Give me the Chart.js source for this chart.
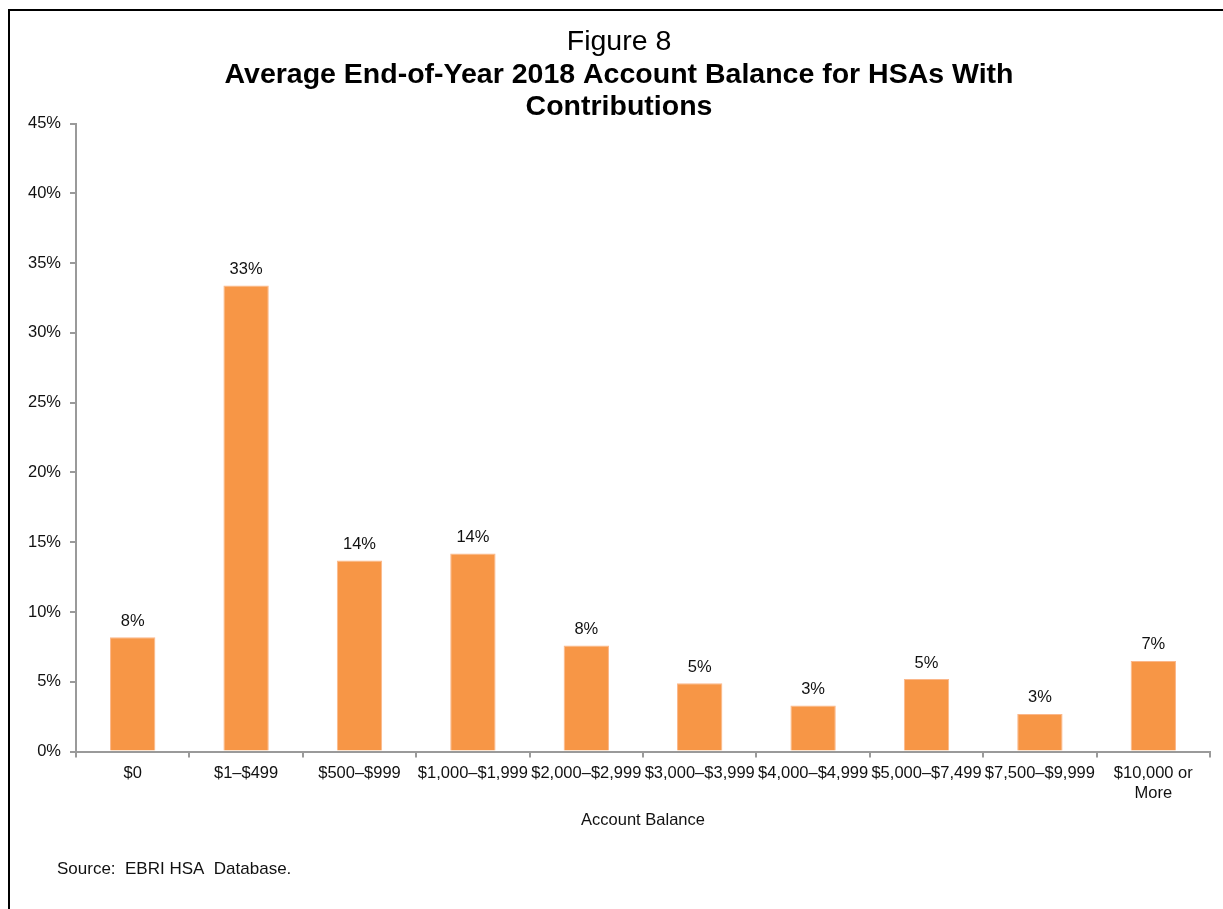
<!DOCTYPE html>
<html>
<head>
<meta charset="utf-8">
<script src="https://cdn.jsdelivr.net/npm/chart.js@4/dist/chart.umd.min.js"></script>
<style>
  body { margin: 0; background: #fff; }
  #wrap { width: 1223px; height: 909px; position: relative; }
</style>
</head>
<body>
<div id="wrap"><canvas id="chart1" width="1223" height="909"></canvas></div>
<script>
// account balance buckets and share of HSAs (percent)
var balances = ['$0', '$1\u2013$499', '$500\u2013$999', '$1,000\u2013$1,999', '$2,000\u2013$2,999',
  '$3,000\u2013$3,999', '$4,000\u2013$4,999', '$5,000\u2013$7,499', '$7,500\u2013$9,999', ['$10,000 or', 'More']];
var shares = [8.2, 33.4, 13.7, 14.2, 7.6, 4.9, 3.3, 5.2, 2.7, 6.5];
var yTicks = [0, 5, 10, 15, 20, 25, 30, 35, 40, 45];

var fontFam = '"Liberation Sans", Arial, sans-serif';
var axisGray = '#9a9a9a';

// value labels over bars + frame + source note
var extras = {
  id: 'extras',
  afterDatasetsDraw: function(chart) {
    var ctx = chart.ctx;
    var meta = chart.getDatasetMeta(0);
    ctx.save();
    ctx.font = '16.5px ' + fontFam;
    ctx.fillStyle = '#111';
    ctx.textAlign = 'center';
    ctx.textBaseline = 'middle';
    meta.data.forEach(function(bar, i) {
      ctx.fillText(Math.round(shares[i]) + '%', bar.x, bar.y - 16);
    });
    ctx.restore();
  },
  afterDraw: function(chart) {
    var ctx = chart.ctx;
    ctx.save();
    ctx.strokeStyle = '#000';
    ctx.lineWidth = 2;
    ctx.beginPath();
    ctx.moveTo(9, 920);
    ctx.lineTo(9, 10);
    ctx.lineTo(1230, 10);
    ctx.stroke();
    ctx.font = '17px ' + fontFam;
    ctx.fillStyle = '#111';
    ctx.textBaseline = 'middle';
    ctx.fillText('Source:  EBRI HSA  Database.', 57, 869);
    ctx.restore();
  }
};

new Chart(document.getElementById('chart1').getContext('2d'), {
  type: 'bar',
  data: {
    labels: balances,
    datasets: [{
      data: shares,
      backgroundColor: '#F79646',
      borderColor: '#FBB78A',
      borderWidth: {top: 1, left: 1, right: 1, bottom: 0},
      categoryPercentage: 1,
      barPercentage: 0.4
    }]
  },
  options: {
    responsive: false,
    animation: false,
    layout: { padding: { left: 28, right: 13, top: 0, bottom: 79 } },
    plugins: {
      legend: { display: false },
      tooltip: { enabled: false },
      title: {
        display: true,
        text: 'Figure 8',
        color: '#000',
        font: { family: fontFam, size: 28.5, weight: 'normal', lineHeight: 1.13 },
        padding: { top: 26, bottom: 1 }
      },
      subtitle: {
        display: true,
        text: ['Average End-of-Year 2018 Account Balance for HSAs With', 'Contributions'],
        color: '#000',
        font: { family: fontFam, size: 28.5, weight: 'bold', lineHeight: 1.13 },
        padding: { top: 0, bottom: 0 }
      }
    },
    scales: {
      x: {
        grid: { drawOnChartArea: false, drawTicks: true, tickLength: 6, color: axisGray, lineWidth: 2 },
        border: { color: axisGray, width: 2 },
        ticks: { color: '#111', font: { family: fontFam, size: 16.5 }, padding: 6, maxRotation: 0, autoSkip: false },
        title: {
          display: true,
          text: 'Account Balance',
          color: '#111',
          font: { family: fontFam, size: 16.5 },
          padding: { top: 1, bottom: 0 }
        }
      },
      y: {
        min: 0,
        max: 45,
        afterBuildTicks: function(axis) {
          axis.ticks = yTicks.map(function(v) { return { value: v }; });
        },
        afterFit: function(axis) { axis.width = 48; },
        grid: { drawOnChartArea: false, drawTicks: true, tickLength: 6, color: axisGray, lineWidth: 2 },
        border: { color: axisGray, width: 2 },
        ticks: {
          color: '#111',
          font: { family: fontFam, size: 16.5 },
          padding: 9,
          callback: function(v) { return v + '%'; }
        }
      }
    }
  },
  plugins: [extras]
});
</script>
</body>
</html>
